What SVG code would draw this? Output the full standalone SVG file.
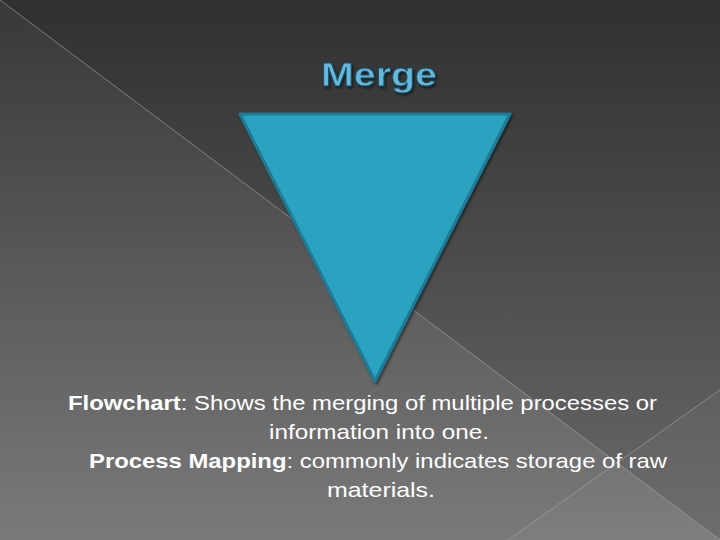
<svg xmlns="http://www.w3.org/2000/svg" width="720" height="540" viewBox="0 0 720 540">
<defs>
<linearGradient id="bg" x1="0" y1="0" x2="0" y2="1">
<stop offset="0" stop-color="#383838"/>
<stop offset="1" stop-color="#7a7a7a"/>
</linearGradient>
<linearGradient id="facet" x1="0" y1="0" x2="0" y2="1">
<stop offset="0" stop-color="#303030"/>
<stop offset="1" stop-color="#6a6a6a"/>
</linearGradient>
<filter id="sh" x="-10%" y="-10%" width="130%" height="130%">
<feDropShadow dx="1.5" dy="2" stdDeviation="1" flood-color="#000" flood-opacity="0.5"/>
</filter>
</defs>
<style>
.body{font-family:"Liberation Sans",Arial,sans-serif;font-size:21px;fill:#ffffff}
.b{font-weight:bold}
.title{font-family:"Liberation Sans",Arial,sans-serif;font-size:33px;font-weight:bold;fill:#62b9dd;stroke:#1d4a5e;stroke-width:0.8}
.ln{stroke:#a8a8a8;stroke-width:1;fill:none;opacity:0.6}
</style>
<rect width="720" height="540" fill="url(#bg)"/>
<polygon points="0,0 720,0 720,540" fill="url(#facet)"/>
<polygon points="720,390 508,540 720,540" fill="#ffffff" opacity="0.03"/>
<g id="lines">
<line class="ln" x1="0" y1="0" x2="720" y2="540"/>
<line class="ln" x1="720" y1="390" x2="508" y2="540"/>
</g>
<g id="title">
<text class="title" x="321" y="86" textLength="116" lengthAdjust="spacingAndGlyphs" filter="url(#sh)">Merge</text>
</g>
<g id="merge">
<polygon points="240,114 510,114 375,381" fill="#2ba2c0" stroke="#1f7b96" stroke-width="3" stroke-linejoin="round" filter="url(#sh)"/>
</g>
<g id="caption">
<text class="body" x="68" y="410" textLength="589" lengthAdjust="spacingAndGlyphs"><tspan class="b">Flowchart</tspan>: Shows the merging of multiple processes or</text>
<text class="body" x="269" y="439" textLength="220" lengthAdjust="spacingAndGlyphs">information into one.</text>
<text class="body" x="89" y="468" textLength="578" lengthAdjust="spacingAndGlyphs"><tspan class="b">Process Mapping</tspan>: commonly indicates storage of raw</text>
<text class="body" x="327" y="497" textLength="108" lengthAdjust="spacingAndGlyphs">materials.</text>
</g>
</svg>
